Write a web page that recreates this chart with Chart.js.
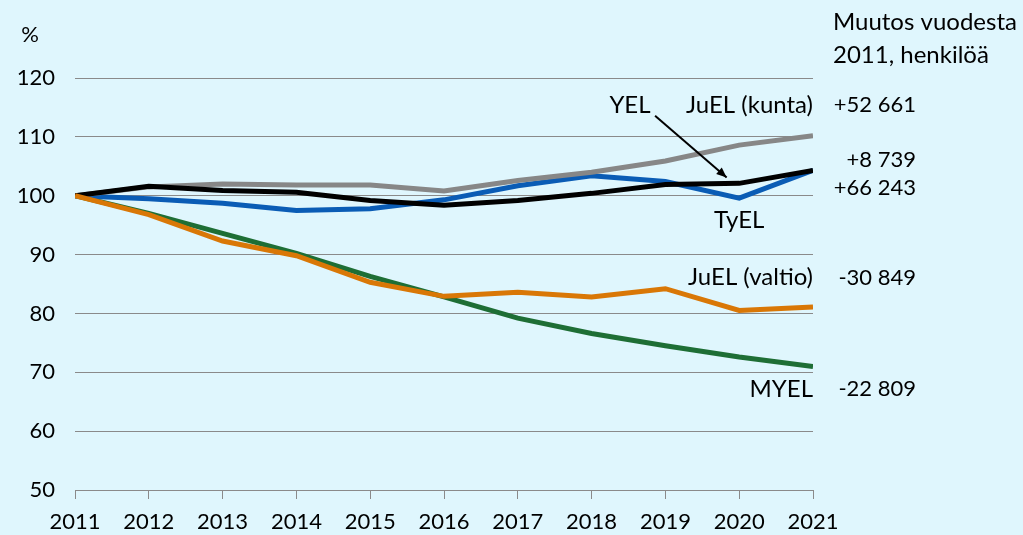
<!DOCTYPE html>
<html>
<head>
<meta charset="utf-8">
<script src="https://cdn.jsdelivr.net/npm/chart.js@4/dist/chart.umd.min.js"></script>
<style>
  html, body { margin: 0; padding: 0; background: #dff6fd; }
  #wrap { width: 1023px; height: 535px; }
</style>
</head>
<body>
<div id="wrap"><canvas id="myChart" width="1023" height="535"></canvas></div>
<script>
const years = ['2011', '2012', '2013', '2014', '2015', '2016', '2017', '2018', '2019', '2020', '2021'];
const juelKunta = [100, 101.5, 102, 101.8, 101.8, 100.8, 102.6, 104, 105.9, 108.6, 110.2];
const yel = [100, 101.6, 100.9, 100.6, 99.2, 98.4, 99.2, 100.4, 101.9, 102.1, 104.3];
const tyel = [100, 99.5, 98.7, 97.5, 97.8, 99.3, 101.7, 103.4, 102.4, 99.6, 104.3];
const juelValtio = [100, 96.8, 92.3, 89.8, 85.3, 82.9, 83.6, 82.8, 84.2, 80.5, 81.1];
const myel = [100, 97, 93.6, 90.2, 86.3, 82.8, 79.2, 76.6, 74.5, 72.6, 71];
const yTicks = [50, 60, 70, 80, 90, 100, 110, 120];

// annotation texts, positioned in data space (x = year index, y = value)
const labels = [
   { text: 'YEL', x: 7.52, y: 115.4, align: 'center' },
   { text: 'JuEL (kunta)', x: 10, y: 115.4, align: 'right' },
   { text: 'TyEL', x: 9, y: 95.9, align: 'center' },
   { text: 'JuEL (valtio)', x: 10, y: 86.1, align: 'right' },
   { text: 'MYEL', x: 10, y: 67.1, align: 'right' },
];
const changes = [
   { text: '+52 661', y: 115.4 },
   { text: '+8 739', y: 106.1 },
   { text: '+66 243', y: 101.4 },
   { text: '-30 849', y: 86.1 },
   { text: '-22 809', y: 67.1 },
];
const header = ['Muutos vuodesta', '2011, henkilöä'];
const headerY = [129.5, 123.8];
const arrow = { x1: 7.86, y1: 113.6, x2: 8.83, y2: 103.1 };

const FONT = 'Lato, "Open Sans", sans-serif';

const textPlugin = {
   id: 'texts',
   afterDatasetsDraw(chart) {
      const ctx = chart.ctx;
      const xs = chart.scales.x;
      const ys = chart.scales.y;
      const area = chart.chartArea;
      ctx.save();
      ctx.fillStyle = '#000';
      ctx.textBaseline = 'middle';

      ctx.font = '24px ' + FONT;
      labels.forEach((l) => {
         ctx.textAlign = l.align;
         ctx.fillText(l.text, xs.getPixelForValue(l.x), ys.getPixelForValue(l.y));
      });

      ctx.textAlign = 'left';
      header.forEach((h, i) => {
         ctx.fillText(h, area.right + 20, ys.getPixelForValue(headerY[i]));
      });

      ctx.font = '22px ' + FONT;
      ctx.textAlign = 'right';
      changes.forEach((c) => {
         ctx.fillText(c.text, area.right + 103, ys.getPixelForValue(c.y));
      });

      ctx.textAlign = 'center';
      ctx.fillText('%', area.left - 45, ys.getPixelForValue(127.3));

      // arrow YEL -> line
      const x1 = xs.getPixelForValue(arrow.x1), y1 = ys.getPixelForValue(arrow.y1);
      const x2 = xs.getPixelForValue(arrow.x2), y2 = ys.getPixelForValue(arrow.y2);
      ctx.strokeStyle = '#000';
      ctx.lineWidth = 2;
      ctx.beginPath();
      ctx.moveTo(x1, y1);
      ctx.lineTo(x2, y2);
      ctx.stroke();
      const a = Math.atan2(y2 - y1, x2 - x1);
      ctx.beginPath();
      ctx.moveTo(x2, y2);
      ctx.lineTo(x2 - 11 * Math.cos(a - 0.4), y2 - 11 * Math.sin(a - 0.4));
      ctx.lineTo(x2 - 11 * Math.cos(a + 0.4), y2 - 11 * Math.sin(a + 0.4));
      ctx.closePath();
      ctx.fill();
      ctx.restore();
   },
};

function line(data, color, order) {
   return {
      data: data.map((v, i) => ({ x: i, y: v })),
      borderColor: color,
      borderWidth: 5,
      pointRadius: 0,
      tension: 0,
      fill: false,
      order: order,
   };
}

new Chart(document.getElementById('myChart'), {
   type: 'line',
   data: {
      datasets: [
         line(juelValtio, '#d97706', 1),
         line(yel, '#000000', 2),
         line(juelKunta, '#878787', 3),
         line(tyel, '#0a5cb5', 4),
         line(myel, '#1e6e35', 5),
      ],
   },
   options: {
      responsive: false,
      animation: false,
      layout: { padding: { top: 78, right: 210, left: 0, bottom: 0 } },
      plugins: { legend: { display: false }, tooltip: { enabled: false } },
      scales: {
         x: {
            type: 'linear',
            min: 0,
            max: 10,
            afterBuildTicks: (s) => { s.ticks = years.map((y, i) => ({ value: i })); },
            afterFit: (s) => { s.height = 45; },
            ticks: {
               callback: (v) => years[v],
               color: '#000',
               font: { family: FONT, size: 22 },
               padding: 10,
               maxRotation: 0,
               autoSkip: false,
            },
            grid: { drawOnChartArea: false, drawTicks: true, tickLength: 9, color: '#8a8a8a', lineWidth: 1 },
            border: { color: '#8a8a8a', width: 1 },
         },
         y: {
            min: 50,
            max: 120,
            afterBuildTicks: (s) => { s.ticks = yTicks.map((v) => ({ value: v })); },
            afterFit: (s) => { s.width = 75; },
            ticks: {
               color: '#000',
               font: { family: FONT, size: 22 },
               padding: 20,
            },
            grid: { drawTicks: false, color: '#8a8a8a', lineWidth: 1 },
            border: { display: false },
         },
      },
   },
   plugins: [textPlugin],
});
</script>
</body>
</html>
